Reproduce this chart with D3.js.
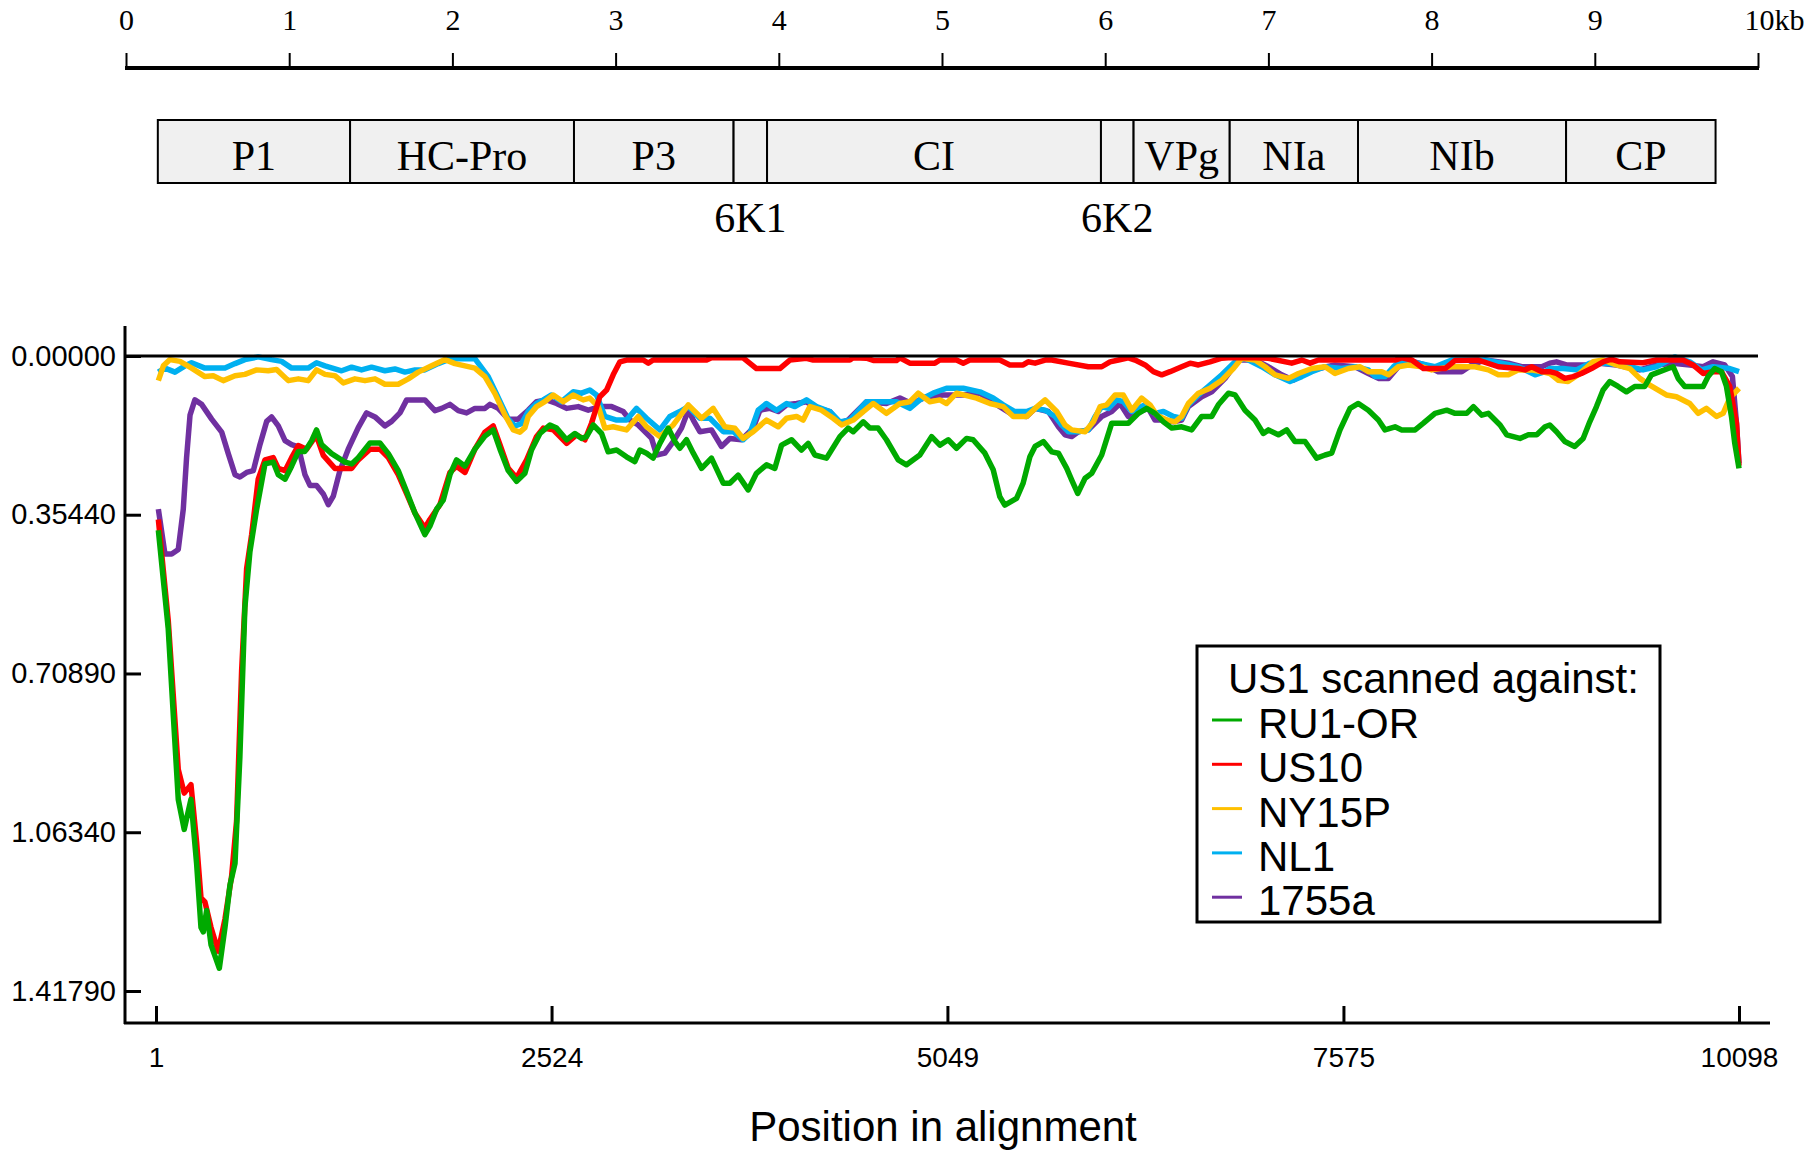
<!DOCTYPE html>
<html>
<head>
<meta charset="utf-8">
<script src="https://cdn.jsdelivr.net/npm/d3@7"></script>
<style>
  body { margin: 0; background: #fff; }
</style>
</head>
<body>
<div id="chart"></div>
<script>
// ---- genome map ----
const kbTicks = [0, 1, 2, 3, 4, 5, 6, 7, 8, 9, 10];
const geneNames = ["P1", "HC-Pro", "P3", "6K1", "CI", "6K2", "VPg", "NIa", "NIb", "CP"];
const geneStart = [0.195, 1.373, 2.745, 3.723, 3.928, 5.974, 6.174, 6.763, 7.549, 8.824];
const geneEnd   = [1.373, 2.745, 3.723, 3.928, 5.974, 6.174, 6.763, 7.549, 8.824, 9.740];

// ---- scan plot ----
const xTicks = [1, 2524, 5049, 7575, 10098];
const yTicks = [0, 0.3544, 0.7089, 1.0634, 1.4179];
const seriesNames = ["RU1-OR", "US10", "NY15P", "NL1", "1755a"];
const seriesColors = ["#00aa00", "#ff0000", "#ffc000", "#00b0f0", "#7030a0"];

// [position in alignment, value]
const ru1or = [[16,0.389],[79,0.609],[143,0.990],[181,1.057],[224,0.990],[260,1.133],[288,1.276],[303,1.286],[324,1.238],[352,1.315],[405,1.367],[441,1.276],[473,1.181],[505,1.133],[536,0.895],[568,0.561],[600,0.437],[643,0.342],[696,0.241],[749,0.237],[781,0.265],[824,0.275],[866,0.246],[909,0.213],[951,0.213],[994,0.189],[1025,0.165],[1057,0.198],[1121,0.218],[1206,0.237],[1249,0.241],[1291,0.227],[1366,0.194],[1429,0.194],[1483,0.218],[1546,0.256],[1600,0.303],[1653,0.351],[1716,0.399],[1748,0.380],[1791,0.342],[1833,0.322],[1876,0.265],[1918,0.232],[1972,0.246],[2035,0.208],[2099,0.179],[2152,0.165],[2195,0.208],[2248,0.256],[2301,0.280],
  [2354,0.262],[2396,0.210],[2450,0.173],[2513,0.154],[2556,0.161],[2620,0.187],[2673,0.173],[2715,0.184],[2747,0.180],[2790,0.154],[2843,0.173],[2885,0.214],[2939,0.210],[3002,0.225],[3055,0.236],[3087,0.210],[3130,0.217],[3172,0.228],[3215,0.195],[3268,0.161],[3311,0.191],[3342,0.206],[3385,0.187],[3428,0.217],[3481,0.251],[3544,0.228],[3619,0.284],[3661,0.284],[3714,0.266],[3778,0.299],[3831,0.262],[3895,0.243],[3948,0.251],[3991,0.199],[4055,0.187],[4118,0.210],[4161,0.195],[4203,0.221],[4278,0.228],[4363,0.180],[4416,0.161],[4448,0.169],[4512,0.147],[4554,0.161],[4607,0.161],[4660,0.187],[4735,0.232],[4788,0.243],[4873,0.221],[4948,0.180],[5001,0.199],[5054,0.187],[5107,0.206],[5171,0.184],[5213,0.187],[5288,0.217],[5341,0.254],[5383,0.314],[5415,0.333],[5490,0.318],[5532,0.284],[5575,0.225],
  [5608,0.202],[5661,0.191],[5714,0.214],[5757,0.217],[5810,0.251],[5842,0.277],[5880,0.307],[5927,0.273],[5969,0.262],[6033,0.221],[6097,0.150],[6203,0.150],[6267,0.128],[6320,0.117],[6373,0.128],[6427,0.147],[6480,0.161],[6543,0.158],[6607,0.165],[6671,0.135],[6735,0.135],[6777,0.109],[6841,0.083],[6884,0.087],[6947,0.121],[7011,0.143],[7064,0.173],[7096,0.165],[7160,0.176],[7213,0.165],[7266,0.191],[7330,0.191],[7404,0.228],[7458,0.221],[7500,0.217],[7553,0.165],[7617,0.117],[7670,0.106],[7734,0.121],[7798,0.143],[7840,0.165],[7904,0.158],[7947,0.165],[8032,0.165],[8085,0.150],[8159,0.128],[8234,0.121],[8287,0.128],[8361,0.128],[8404,0.113],[8457,0.132],[8499,0.128],[8574,0.154],[8616,0.176],[8701,0.184],[8754,0.176],[8808,0.176],[8861,0.158],
  [8891,0.154],[8934,0.169],[8987,0.191],[9050,0.202],[9104,0.184],[9146,0.147],[9189,0.113],[9231,0.076],[9274,0.057],[9327,0.068],[9380,0.080],[9433,0.068],[9497,0.068],[9539,0.042],[9593,0.035],[9646,0.028],[9678,0.024],[9710,0.050],[9752,0.068],[9869,0.068],[9901,0.046],[9943,0.028],[9986,0.035],[10018,0.068],[10050,0.135],[10071,0.195],[10098,0.251]];

const us10 = [[16,0.365],[79,0.590],[143,0.923],[181,0.976],[224,0.957],[260,1.086],[288,1.210],[313,1.219],[352,1.276],[398,1.329],[441,1.257],[483,1.162],[515,1.038],[547,0.704],[579,0.475],[611,0.399],[653,0.275],[696,0.232],[749,0.227],[781,0.251],[824,0.256],[866,0.227],[909,0.200],[962,0.208],[1004,0.187],[1025,0.179],[1068,0.222],[1142,0.251],[1249,0.251],[1291,0.232],[1366,0.208],[1429,0.208],[1483,0.227],[1546,0.265],[1600,0.308],[1653,0.351],[1716,0.384],[1748,0.365],[1812,0.332],[1876,0.260],[1918,0.246],[1972,0.260],[2035,0.208],[2099,0.170],[2152,0.156],[2195,0.198],[2248,0.251],[2301,0.272],
  [2365,0.232],[2428,0.180],[2471,0.161],[2535,0.165],[2620,0.195],[2683,0.176],[2737,0.187],[2779,0.150],[2832,0.091],[2875,0.076],[2917,0.042],[2960,0.013],[3002,0.009],[3109,0.009],[3141,0.016],[3172,0.009],[3513,0.009],[3544,0.004],[3746,0.004],[3831,0.028],[3980,0.028],[4044,0.009],[4150,0.005],[4193,0.009],[4427,0.009],[4448,0.004],[4533,0.005],[4576,0.010],[4724,0.010],[4746,0.004],[4809,0.016],[4969,0.016],[5001,0.009],[5107,0.009],[5150,0.016],[5192,0.009],[5383,0.009],[5447,0.020],[5532,0.020],[5564,0.013],
  [5608,0.016],[5672,0.009],[5714,0.009],[5820,0.016],[5948,0.024],[6033,0.024],[6086,0.013],[6140,0.009],[6203,0.004],[6246,0.009],[6310,0.020],[6363,0.035],[6416,0.042],[6469,0.035],[6543,0.024],[6597,0.016],[6650,0.020],[6724,0.013],[6799,0.005],[6841,0.004],[7011,0.004],[7096,0.005],[7245,0.016],[7309,0.009],[7362,0.016],[7415,0.009],[7904,0.009],[7947,0.004],[8011,0.009],[8085,0.028],[8223,0.028],[8287,0.010],[8436,0.009],[8563,0.024],[8691,0.028],[8733,0.031],[8776,0.024],[8840,0.035],
  [8891,0.035],[8934,0.039],[8987,0.050],[9040,0.046],[9093,0.039],[9157,0.028],[9231,0.013],[9284,0.007],[9337,0.013],[9486,0.015],[9571,0.009],[9741,0.009],[9805,0.020],[9869,0.039],[9933,0.035],[9986,0.035],[10039,0.068],[10082,0.150],[10098,0.245]];

const ny15p = [[16,0.055],[48,0.022],[90,0.008],[154,0.012],[228,0.027],[313,0.046],[366,0.044],[430,0.055],[505,0.044],[568,0.041],[643,0.031],[717,0.033],[770,0.030],[845,0.055],[909,0.051],[972,0.055],[1025,0.031],[1079,0.041],[1142,0.044],[1196,0.060],[1270,0.051],[1334,0.055],[1398,0.051],[1461,0.063],[1546,0.063],[1610,0.051],[1674,0.036],[1759,0.022],[1844,0.008],[1908,0.017],[1972,0.022],[2035,0.027],[2099,0.046],[2163,0.084],[2227,0.132],[2280,0.165],[2322,0.170],
  [2354,0.160],[2375,0.135],[2428,0.113],[2481,0.102],[2535,0.087],[2598,0.102],[2662,0.087],[2726,0.098],[2768,0.094],[2822,0.113],[2864,0.161],[2917,0.158],[3002,0.165],[3077,0.135],[3130,0.158],[3215,0.180],[3300,0.154],[3396,0.109],[3481,0.139],[3555,0.117],[3629,0.158],[3693,0.161],[3746,0.184],[3810,0.169],[3895,0.143],[3970,0.158],[4023,0.139],[4087,0.135],[4129,0.143],[4172,0.113],[4246,0.121],[4320,0.139],[4374,0.154],[4448,0.143],[4512,0.124],[4576,0.106],[4660,0.128],[4746,0.106],[4809,0.102],[4863,0.083],[4937,0.102],[5001,0.098],[5043,0.106],[5107,0.083],[5235,0.094],[5320,0.106],[5405,0.113],[5469,0.135],[5554,0.135],
  [5608,0.117],[5672,0.098],[5746,0.124],[5799,0.154],[5842,0.165],[5927,0.169],[5980,0.147],[6023,0.113],[6065,0.109],[6118,0.087],[6171,0.087],[6225,0.121],[6288,0.094],[6341,0.109],[6384,0.132],[6448,0.143],[6501,0.147],[6543,0.135],[6586,0.106],[6650,0.083],[6724,0.072],[6799,0.054],[6873,0.028],[6926,0.005],[7011,0.009],[7075,0.024],[7139,0.042],[7224,0.050],[7288,0.039],[7373,0.028],[7458,0.024],[7521,0.039],[7607,0.028],[7681,0.024],[7734,0.035],[7819,0.035],[7862,0.042],[7925,0.024],[7989,0.020],[8074,0.024],[8138,0.031],[8265,0.024],[8414,0.024],[8499,0.031],[8563,0.042],[8627,0.042],[8691,0.031],[8776,0.031],[8840,0.035],
  [8891,0.039],[8944,0.054],[9008,0.057],[9072,0.042],[9167,0.013],[9231,0.009],[9316,0.020],[9401,0.028],[9465,0.050],[9529,0.065],[9635,0.087],[9699,0.091],[9784,0.106],[9837,0.128],[9890,0.117],[9954,0.135],[9997,0.128],[10039,0.094],[10098,0.072]];

const nl1 = [[16,0.036],[58,0.027],[122,0.036],[186,0.022],[228,0.015],[313,0.027],[441,0.027],[505,0.017],[568,0.008],[653,0.002],[738,0.008],[802,0.012],[866,0.027],[972,0.027],[1025,0.015],[1079,0.022],[1185,0.033],[1249,0.025],[1312,0.031],[1376,0.025],[1461,0.033],[1525,0.029],[1589,0.036],[1653,0.031],[1716,0.031],[1801,0.017],[1865,0.008],[1929,0.006],[2035,0.006],[2120,0.046],[2184,0.093],[2248,0.141],[2290,0.156],[2333,0.151],
  [2375,0.124],[2428,0.106],[2471,0.098],[2524,0.087],[2588,0.102],[2662,0.080],[2715,0.083],[2768,0.076],[2811,0.087],[2864,0.135],[2939,0.143],[3002,0.143],[3066,0.117],[3130,0.139],[3215,0.165],[3279,0.135],[3342,0.124],[3396,0.113],[3470,0.139],[3534,0.139],[3619,0.169],[3683,0.169],[3746,0.187],[3789,0.173],[3842,0.121],[3895,0.106],[3959,0.121],[4023,0.106],[4076,0.113],[4150,0.098],[4214,0.113],[4299,0.124],[4363,0.147],[4427,0.143],[4533,0.102],[4618,0.102],[4724,0.102],[4809,0.117],[4873,0.098],[4958,0.083],[5043,0.072],[5150,0.072],[5256,0.080],[5341,0.094],[5405,0.109],[5479,0.124],[5554,0.124],
  [5608,0.117],[5672,0.121],[5736,0.135],[5778,0.154],[5821,0.169],[5884,0.169],[5948,0.165],[5991,0.135],[6033,0.113],[6076,0.117],[6129,0.098],[6171,0.102],[6225,0.124],[6310,0.109],[6373,0.128],[6427,0.124],[6490,0.135],[6543,0.139],[6586,0.109],[6650,0.087],[6714,0.068],[6799,0.042],[6884,0.013],[6947,0.005],[7054,0.024],[7139,0.042],[7234,0.057],[7309,0.046],[7373,0.035],[7458,0.024],[7564,0.028],[7649,0.024],[7734,0.031],[7777,0.046],[7840,0.046],[7894,0.024],[7947,0.009],[8053,0.016],[8159,0.024],[8265,0.009],[8372,0.009],[8478,0.009],[8584,0.016],[8691,0.024],[8797,0.042],[8861,0.035],
  [8891,0.028],[8976,0.028],[9061,0.031],[9146,0.016],[9231,0.016],[9359,0.020],[9486,0.031],[9571,0.024],[9688,0.002],[9784,0.013],[9858,0.031],[9933,0.024],[10039,0.028],[10098,0.035]];

const a1755 = [[16,0.342],[58,0.442],[101,0.442],[143,0.432],[175,0.342],[196,0.227],[218,0.132],[249,0.098],[292,0.108],[356,0.141],[420,0.170],[462,0.218],[505,0.265],[536,0.270],[579,0.260],[622,0.256],[664,0.198],[707,0.146],[738,0.136],[781,0.156],[824,0.189],[866,0.198],[909,0.203],[951,0.265],[983,0.289],[1025,0.289],[1068,0.308],[1100,0.332],[1132,0.313],[1174,0.256],[1227,0.208],[1291,0.160],[1344,0.127],[1398,0.136],[1461,0.156],[1504,0.146],[1557,0.127],[1600,0.098],[1716,0.098],[1780,0.122],[1823,0.117],[1876,0.108],[1929,0.122],[1982,0.127],[2035,0.117],[2099,0.117],[2131,0.108],[2184,0.117],[2248,0.141],[2312,0.141],
  [2375,0.121],[2428,0.102],[2492,0.098],[2556,0.106],[2620,0.117],[2694,0.113],[2758,0.121],[2832,0.113],[2907,0.113],[2981,0.124],[3024,0.143],[3077,0.154],[3119,0.169],[3162,0.184],[3194,0.221],[3247,0.217],[3300,0.191],[3353,0.161],[3396,0.121],[3428,0.143],[3470,0.169],[3544,0.165],[3608,0.202],[3661,0.184],[3736,0.187],[3810,0.161],[3853,0.121],[3917,0.117],[3970,0.124],[4023,0.109],[4087,0.106],[4150,0.102],[4193,0.113],[4299,0.124],[4363,0.150],[4416,0.143],[4533,0.102],[4660,0.106],[4746,0.094],[4820,0.106],[4916,0.091],[5022,0.087],[5150,0.087],[5256,0.083],[5320,0.098],[5383,0.113],[5469,0.132],[5554,0.135],
  [5608,0.117],[5693,0.124],[5757,0.158],[5799,0.176],[5842,0.180],[5884,0.169],[5948,0.165],[6033,0.135],[6097,0.124],[6150,0.106],[6203,0.135],[6278,0.124],[6331,0.117],[6373,0.143],[6437,0.143],[6490,0.147],[6543,0.143],[6586,0.113],[6671,0.091],[6735,0.080],[6820,0.050],[6905,0.009],[7011,0.009],[7096,0.024],[7181,0.042],[7256,0.054],[7330,0.039],[7415,0.028],[7521,0.020],[7649,0.024],[7734,0.039],[7798,0.050],[7862,0.050],[7925,0.024],[7989,0.009],[8095,0.020],[8180,0.035],[8329,0.035],[8393,0.020],[8478,0.009],[8627,0.016],[8712,0.024],[8776,0.024],[8840,0.024],
  [8891,0.016],[8934,0.013],[8997,0.020],[9125,0.020],[9210,0.016],[9316,0.020],[9465,0.031],[9571,0.020],[9678,0.016],[9784,0.020],[9869,0.024],[9933,0.013],[10007,0.020],[10056,0.046],[10082,0.150],[10098,0.240]];

const seriesData = [ru1or, us10, ny15p, nl1, a1755];

const SERIF = '"Liberation Serif", "Times New Roman", serif';
const SANS = '"Liberation Sans", Arial, sans-serif';

const svg = d3.select("#chart").append("svg")
    .attr("width", 1807)
    .attr("height", 1153)
    .style("background", "#fff");

/* ---------- genome map on top ---------- */
let kb = d3.scaleLinear().domain([0, 10]).range([126, 1758]);

let kbAxis = d3.axisTop(kb)
    .tickValues(kbTicks)
    .tickSize(15)
    .tickPadding(23)
    .tickFormat(d => d === 10 ? "10kb" : d);

let gKb = svg.append("g")
    .attr("transform", "translate(0,68)")
    .call(kbAxis);
gKb.select(".domain").remove();
gKb.selectAll(".tick line").attr("stroke", "#000").attr("stroke-width", 2);
gKb.selectAll(".tick text")
    .attr("font-family", SERIF)
    .attr("font-size", 30)
    .attr("fill", "#000");
gKb.selectAll(".tick text").filter(d => d === 10)
    .attr("text-anchor", "start")
    .attr("x", -14);
gKb.append("line")
    .attr("x1", kb(0) - 1).attr("x2", kb(10) + 1)
    .attr("stroke", "#000").attr("stroke-width", 4);

let genes = geneNames.map((n, i) => ({name: n, start: geneStart[i], end: geneEnd[i]}));

svg.selectAll(".gene").data(genes).enter().append("rect")
    .attr("class", "gene")
    .attr("x", d => kb(d.start))
    .attr("y", 120)
    .attr("width", d => kb(d.end) - kb(d.start))
    .attr("height", 63)
    .attr("fill", "#f0f0f0")
    .attr("stroke", "#000")
    .attr("stroke-width", 2);

// small genes get their label under the box
svg.selectAll(".geneLab").data(genes).enter().append("text")
    .attr("class", "geneLab")
    .attr("x", d => (kb(d.start) + kb(d.end)) / 2)
    .attr("y", d => (kb(d.end) - kb(d.start)) < 50 ? 232 : 170)
    .attr("text-anchor", "middle")
    .attr("font-family", SERIF)
    .attr("font-size", 42)
    .attr("fill", "#000")
    .text(d => d.name);

/* ---------- recombination scan ---------- */
let x = d3.scaleLinear().domain([1, 10098]).range([156, 1739]);
let y = d3.scaleLinear().domain([0, 1.4179]).range([356, 991]);

// axis lines
svg.append("line")
    .attr("x1", 125).attr("x2", 125).attr("y1", 326).attr("y2", 1024)
    .attr("stroke", "#000").attr("stroke-width", 3);
svg.append("line")
    .attr("x1", 124).attr("x2", 1770).attr("y1", 1023).attr("y2", 1023)
    .attr("stroke", "#000").attr("stroke-width", 3);

let yAxis = d3.axisLeft(y)
    .tickValues(yTicks)
    .tickSize(-16)
    .tickPadding(9)
    .tickFormat(d3.format(".5f"));
let gy = svg.append("g").attr("transform", "translate(125,0)").call(yAxis);
gy.select(".domain").remove();
gy.selectAll(".tick line").attr("stroke", "#000").attr("stroke-width", 3);
gy.selectAll(".tick text")
    .attr("font-family", SANS).attr("font-size", 29).attr("fill", "#000");

let xAxis = d3.axisBottom(x)
    .tickValues(xTicks)
    .tickSize(-17)
    .tickPadding(24)
    .tickFormat(d3.format("d"));
let gx = svg.append("g").attr("transform", "translate(0,1023)").call(xAxis);
gx.select(".domain").remove();
gx.selectAll(".tick line").attr("stroke", "#000").attr("stroke-width", 3);
gx.selectAll(".tick text")
    .attr("font-family", SANS).attr("font-size", 28).attr("fill", "#000");

svg.append("text")
    .attr("x", 943).attr("y", 1141)
    .attr("text-anchor", "middle")
    .attr("font-family", SANS).attr("font-size", 42)
    .text("Position in alignment");

// series lines, purple at the bottom, green on top
let line = d3.line()
    .x(d => x(d[0]))
    .y(d => y(d[1]));

let drawOrder = [4, 3, 2, 1, 0];
svg.selectAll(".scan").data(drawOrder).enter().append("path")
    .attr("class", "scan")
    .attr("d", i => line(seriesData[i]))
    .attr("fill", "none")
    .attr("stroke", i => seriesColors[i])
    .attr("stroke-width", 5.5)
    .attr("stroke-linejoin", "round");

// zero reference line
svg.append("line")
    .attr("x1", 125).attr("x2", 1758).attr("y1", y(0)).attr("y2", y(0))
    .attr("stroke", "#000").attr("stroke-width", 3);

/* ---------- legend ---------- */
let legend = svg.append("g").attr("transform", "translate(1197,646)");
legend.append("rect")
    .attr("width", 463).attr("height", 276)
    .attr("fill", "#fff").attr("stroke", "#000").attr("stroke-width", 3);
legend.append("text")
    .attr("x", 31).attr("y", 47)
    .attr("font-family", SANS).attr("font-size", 42)
    .text("US1 scanned against:");

let items = legend.selectAll(".item").data(seriesNames).enter().append("g")
    .attr("class", "item")
    .attr("transform", (d, i) => "translate(0," + (74 + i * 44.3) + ")");
items.append("line")
    .attr("x1", 15).attr("x2", 45)
    .attr("stroke", (d, i) => seriesColors[i])
    .attr("stroke-width", 3);
items.append("text")
    .attr("x", 61).attr("y", 18)
    .attr("font-family", SANS).attr("font-size", 42)
    .text(d => d);
</script>
</body>
</html>
